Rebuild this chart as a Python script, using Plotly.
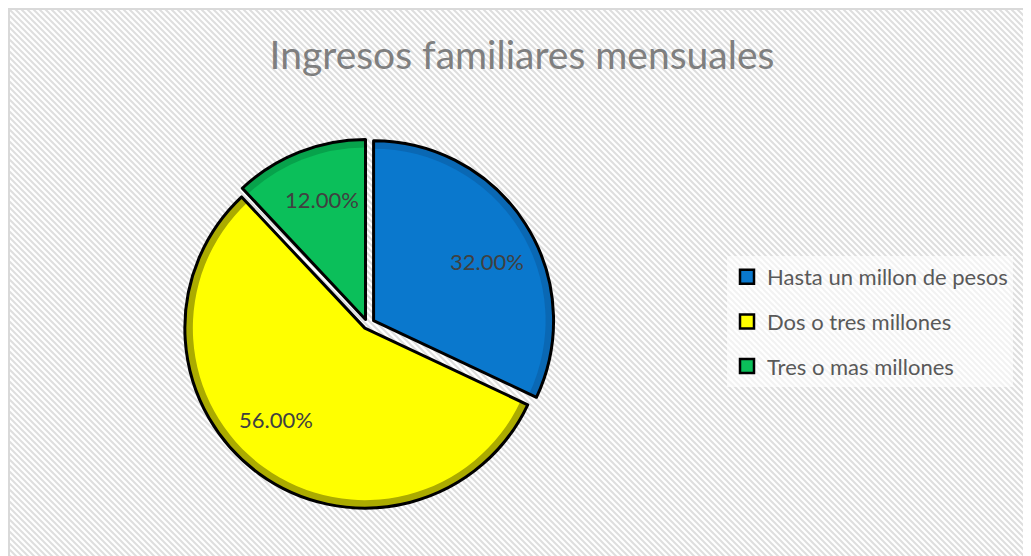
import base64
import math
import plotly.graph_objects as go

# ---- data ----
categories = ["Hasta un millon de pesos", "Dos o tres millones", "Tres o mas millones"]
values = [32, 56, 12]
colors = ["#0A78CD", "#FFFF00", "#0BBF5A"]
edge_colors = ["#0A68B4", "#ABAB00", "#07A24B"]
pulls = [0.04, 0.025, 0.03]
title_text = "Ingresos familiares mensuales"

W, H = 1031, 556
OFF = 8  # page body margin in the browser


def fx(X):
    return (X - OFF) / W


def fy(Y):
    return 1 - (Y - OFF) / H


svg = (
    '<svg xmlns="http://www.w3.org/2000/svg" width="1031" height="556">'
    '<defs><pattern id="p" patternUnits="userSpaceOnUse" width="6" height="6">'
    '<rect width="6" height="6" fill="white"/>'
    '<path d="M-1,-1 L7,7 M-1,5 L1,7 M5,-1 L7,1" stroke="#DEDEDE" stroke-width="2"/>'
    '</pattern></defs><rect width="1031" height="556" fill="url(#p)"/></svg>'
)
src = "data:image/svg+xml;base64," + base64.b64encode(svg.encode()).decode()

fig = go.Figure()

cx, cy, r = 367.5, 324.5, 180
band = 8
offsets = [p * r for p in pulls]


def pie_domain(radius, pl):
    half = radius * (1 + max(pl))
    return dict(x=[fx(cx - half), fx(cx + half)], y=[fy(cy + half), fy(cy - half)])


# outer bevel band
fig.add_trace(go.Pie(
    labels=categories, values=values,
    marker=dict(colors=edge_colors, line=dict(width=0)),
    pull=pulls, sort=False, direction="clockwise", rotation=0,
    textinfo="none", domain=pie_domain(r, pulls),
    showlegend=False, hoverinfo="label+percent",
))
# bright face
r_in = r - band
pulls_in = [o / r_in for o in offsets]
fig.add_trace(go.Pie(
    labels=categories, values=values,
    marker=dict(colors=colors, line=dict(width=0)),
    pull=pulls_in, sort=False, direction="clockwise", rotation=0,
    textinfo="none", domain=pie_domain(r_in, pulls_in),
    showlegend=False, hoverinfo="skip",
))
# black outlines
fig.add_trace(go.Pie(
    labels=categories, values=values,
    marker=dict(colors=["rgba(0,0,0,0)"] * len(values), line=dict(color="black", width=3)),
    pull=pulls, sort=False, direction="clockwise", rotation=0,
    textinfo="none", domain=pie_domain(r, pulls),
    showlegend=False, hoverinfo="skip",
))

# percentage labels, placed from each slice's (pulled) vertex, a bit past its mid-angle
total = sum(values)
annotations = []
cum = 0
for v, o in zip(values, offsets):
    start = cum / total * 2 * math.pi
    span = v / total * 2 * math.pi
    mid = start + span / 2
    cum += v
    vx = cx + o * math.sin(mid)
    vy = cy - o * math.cos(mid)
    ang = start + 0.54 * span
    d = 0.71 * r
    px = vx + d * math.sin(ang)
    py = vy - d * math.cos(ang)
    annotations.append(dict(
        text=f"{v / total:.2%}", x=fx(px), y=fy(py), xref="paper", yref="paper",
        showarrow=False, xanchor="center", yanchor="middle",
        font=dict(family="Lato", size=22, color="#404040")))

for lab, col in zip(categories, colors):
    fig.add_trace(go.Scatter(
        x=[None], y=[None], mode="markers", name=lab, legendgroup=lab,
        marker=dict(symbol="square", size=14, color=col,
                    line=dict(color="black", width=2.5)),
        showlegend=True,
    ))

fig.update_layout(
    width=W, height=H,
    margin=dict(l=0, r=0, t=0, b=0),
    paper_bgcolor="white",
    plot_bgcolor="rgba(0,0,0,0)",
    xaxis=dict(visible=False),
    yaxis=dict(visible=False),
    title=dict(text=title_text, x=fx(522), xanchor="center",
               y=fy(55), yanchor="middle",
               font=dict(family="Lato", size=39, color="#7F7F7F")),
    legend=dict(
        x=fx(727), xanchor="left", y=fy(256), yanchor="top",
        bgcolor="rgba(255,255,255,0.6)",
        font=dict(family="Lato", size=22, color="#595959"),
        tracegroupgap=13,
        itemclick=False, itemdoubleclick=False,
    ),
    annotations=annotations,
    images=[dict(source=src, xref="paper", yref="paper", x=0, y=1,
                 sizex=1, sizey=1, sizing="stretch",
                 xanchor="left", yanchor="top", layer="below")],
    shapes=[dict(type="rect", xref="paper", yref="paper", x0=1 / W, x1=1.2,
                 y0=-0.2, y1=1 - 1 / H, line=dict(color="#D9D9D9", width=2),
                 layer="below")],
)

fig.write_html("out.html")
